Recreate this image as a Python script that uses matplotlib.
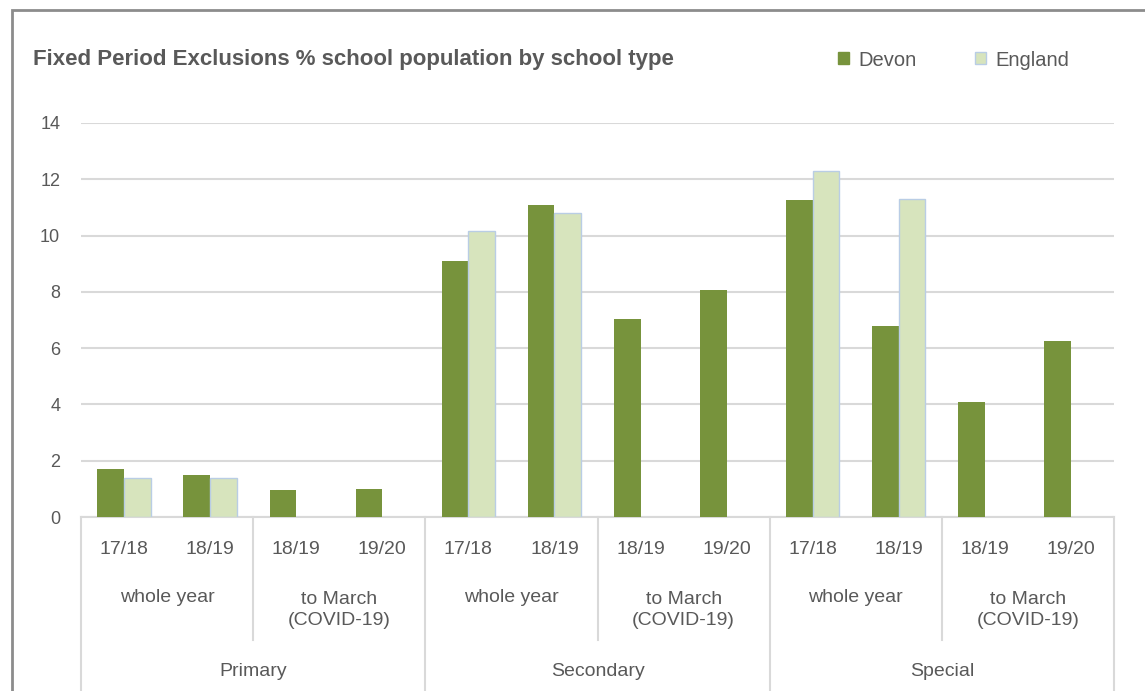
import numpy as np
import matplotlib
matplotlib.use("Agg")
import matplotlib.pyplot as plt
from matplotlib.patches import Patch, Rectangle
from matplotlib.lines import Line2D
import matplotlib.transforms as mtransforms

# ── Data ─────────────────────────────────────────────────────────────
school_types = ["Primary", "Secondary", "Special"]
periods = ["whole year", "to March\n(COVID-19)"]
years = ["17/18", "18/19", "18/19", "19/20"] * 3

devon = [1.7, 1.5, 0.96, 1.0,
         9.1, 11.1, 7.05, 8.05,
         11.25, 6.8, 4.1, 6.27]
england = [1.4, 1.4, np.nan, np.nan,
           10.15, 10.8, np.nan, np.nan,
           12.3, 11.3, np.nan, np.nan]

# ── Style ────────────────────────────────────────────────────────────
plt.rcParams["font.family"] = ["Liberation Sans", "DejaVu Sans"]
TXT = "#595959"
GRID = "#D9D9D9"
COL_DEVON = "#77933C"
COL_ENG = "#D7E4BD"
COL_ENG_EDGE = "#B9CDE5"

W, H = 1145, 691
fig = plt.figure(figsize=(W / 100, H / 100), dpi=100)
fig.patch.set_facecolor("white")

# outer chart frame
fig.add_artist(Rectangle((12 / W, -0.05), 1.1, 1 - 10 / H + 0.05,
                         transform=fig.transFigure, fill=False,
                         edgecolor="#8C8C8C", lw=2))

ax = fig.add_axes([81 / W, 1 - 517 / H, (1114 - 81) / W, (517 - 123) / H])

x = np.arange(len(devon))
bw = 0.31
ax.bar(x - bw / 2, devon, width=bw, color=COL_DEVON, zorder=3)
ax.bar(x + bw / 2, england, width=bw, color=COL_ENG,
       edgecolor=COL_ENG_EDGE, linewidth=1.0, zorder=3)

ax.set_xlim(-0.5, len(devon) - 0.5)
ax.set_ylim(0, 14)
ax.set_yticks(range(0, 15, 2))
ax.yaxis.grid(True, color=GRID, lw=1.5, zorder=0)
ax.set_axisbelow(True)
for s in ["top", "right", "left"]:
    ax.spines[s].set_visible(False)
ax.spines["bottom"].set_color(GRID)
ax.spines["bottom"].set_linewidth(1.5)
ax.tick_params(axis="y", length=0, labelsize=13, labelcolor=TXT, pad=15)
ax.set_xticks([])

# multi-level category axis
tr = mtransforms.blended_transform_factory(ax.transData, ax.transAxes)
ph = 517 - 123
def ay(py):
    return (517 - py) / ph

for i, yr in enumerate(years):
    ax.text(i, ay(549), yr, transform=tr, ha="center", va="center",
            fontsize=14, color=TXT)
for j in range(6):
    ax.text(2 * j + 0.5, ay(610) if j % 2 else ay(597), periods[j % 2],
            transform=tr, ha="center", va="center", fontsize=14,
            color=TXT, linespacing=1.3)
for k, name in enumerate(school_types):
    ax.text(4 * k + 1.5, ay(671), name, transform=tr, ha="center",
            va="center", fontsize=14, color=TXT)

for b in np.arange(-0.5, len(devon), 2):
    bottom = ay(700) if (b + 0.5) % 4 == 0 else ay(640)
    ax.add_line(Line2D([b, b], [0, bottom], transform=tr, color=GRID,
                       lw=1.5, clip_on=False))

# title and legend
fig.text(33 / W, 1 - 60 / H, "Fixed Period Exclusions % school population by school type",
         fontsize=16, fontweight="bold", color=TXT, va="center")
handles = [Patch(facecolor=COL_DEVON, edgecolor=COL_DEVON, label="Devon"),
           Patch(facecolor=COL_ENG, edgecolor=COL_ENG_EDGE, label="England")]
fig.legend(handles=handles, loc="center left", bbox_to_anchor=(820 / W, 1 - 60 / H),
           ncol=2, frameon=False, fontsize=14.5, labelcolor=TXT,
           handlelength=0.55, handleheight=0.55, handletextpad=0.45,
           columnspacing=2.9)

fig.savefig("out.png", dpi=100)
